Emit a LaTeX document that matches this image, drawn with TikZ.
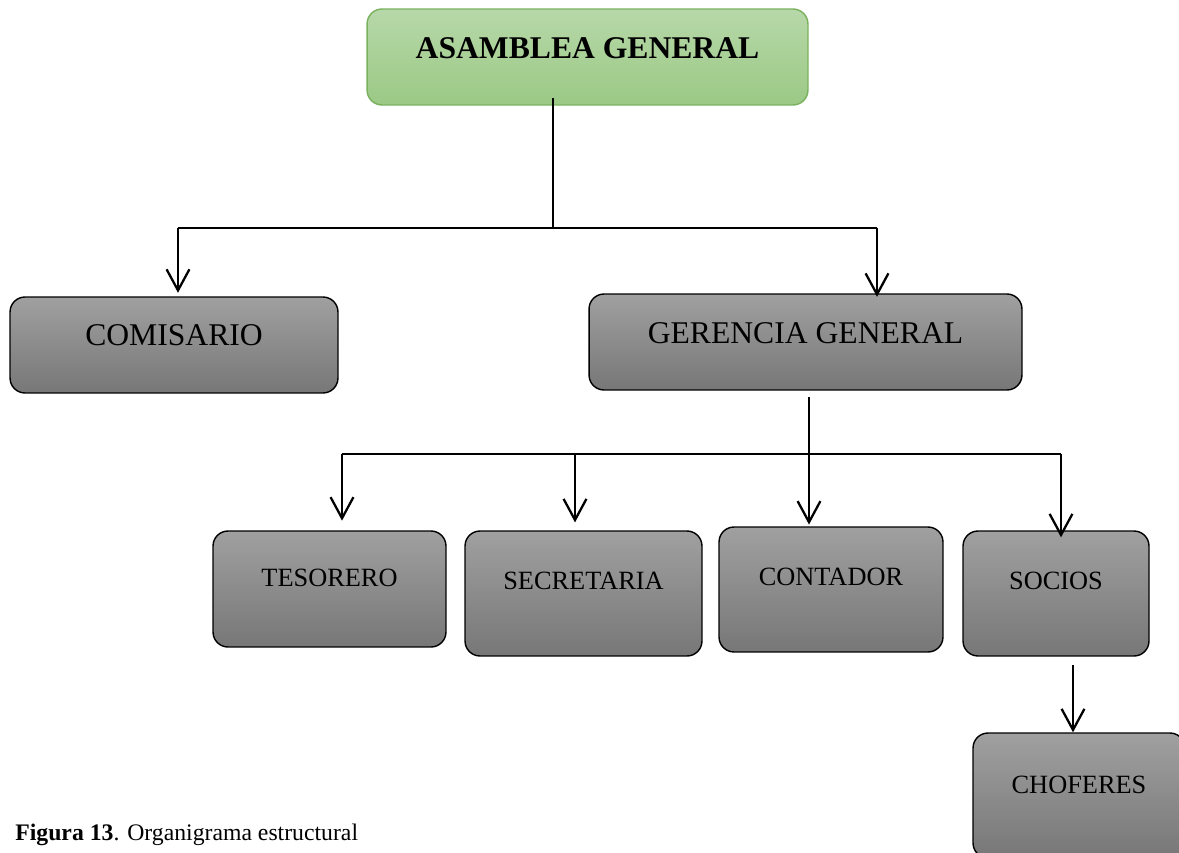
\documentclass[tikz,border=0pt]{standalone}
\usepackage{fontspec}
\setmainfont{Liberation Serif}
\usepackage{tikz}
\usetikzlibrary{positioning,arrows.meta}
\usepackage{xcolor}
\definecolor{verdeA}{HTML}{B7D8A9}
\definecolor{verdeB}{HTML}{9BC985}
\definecolor{verdeBorde}{HTML}{7AB15E}
\definecolor{grisA}{HTML}{A0A0A0}
\definecolor{grisB}{HTML}{777777}
\tikzset{
  caja/.style={draw=black, line width=0.8pt, rounded corners=0.3cm, top color=grisA, bottom color=grisB, inner sep=0pt, font=\fontsize{15}{18}\selectfont},
  raiz/.style={caja, draw=verdeBorde, top color=verdeA, bottom color=verdeB},
  linea/.style={line width=0.9pt},
  flecha/.style={line width=1.3pt, -{Straight Barb[length=12pt,width=13pt]}}
}

\begin{document}
\begin{tikzpicture}[x=0.02cm, y=-0.02cm]
\useasboundingbox (0,0) rectangle (1179,852);
\fill[white] (0,0) rectangle (1179,852);

% cajas
\node[raiz, minimum width=8.82cm, minimum height=1.92cm, text depth=10pt, font=\fontsize{18}{22}\selectfont\bfseries] (asamblea) at (587.5,57) {ASAMBLEA GENERAL};
\node[caja, minimum width=6.56cm, minimum height=1.92cm, text depth=11pt, font=\fontsize{18}{22}\selectfont] (comisario) at (174,345) {COMISARIO};
\node[caja, minimum width=8.66cm, minimum height=1.92cm, text depth=10pt, font=\fontsize{18}{22}\selectfont] (gerencia) at (805.5,342) {GERENCIA GENERAL};
\node[caja, minimum width=4.66cm, minimum height=2.32cm, text depth=12.5pt] (tesorero) at (329.5,589) {TESORERO};
\node[caja, minimum width=4.74cm, minimum height=2.5cm, text depth=14pt] (secretaria) at (583.5,593.5) {SECRETARIA};
\node[caja, minimum width=4.48cm, minimum height=2.5cm, text depth=14pt] (contador) at (831,589.5) {CONTADOR};
\node[caja, minimum width=3.72cm, minimum height=2.5cm, text depth=14pt] (socios) at (1056,593.5) {SOCIOS};
\node[caja, minimum width=4.24cm, minimum height=2.5cm, text depth=12pt] (choferes) at (1079,795.5) {CHOFERES};

% primer nivel
\coordinate (t1) at (553,98);
\coordinate (b1) at (553,228);
\coordinate (b1i) at (178,228);
\coordinate (b1d) at (877,228);
\draw[linea] (t1) -- (b1);
\draw[linea] (b1i) -- (b1d);
\draw[flecha, shorten >=2pt] (b1i) -- (b1i |- comisario.north);
\draw[flecha, shorten >=-2pt] (b1d) -- (b1d |- gerencia.north);

% segundo nivel
\coordinate (t2) at (809,397);
\coordinate (b2i) at (342,454);
\coordinate (b2s) at (575,454);
\coordinate (b2d) at (1061,454);
\draw[linea] (b2i) -- (b2d);
\draw[flecha, shorten >=1pt] (t2) -- (t2 |- contador.north);
\draw[flecha, shorten >=5.5pt] (b2i) -- (b2i |- tesorero.north);
\draw[flecha, shorten >=4.5pt] (b2s) -- (b2s |- secretaria.north);
\draw[flecha, shorten >=-4pt] (b2d) -- (b2d |- socios.north);

% socios a choferes
\coordinate (s1) at (1073,665);
\draw[flecha] (s1) -- (s1 |- choferes.north);

% pie
\node[anchor=base west, inner sep=0pt, font=\fontsize{13.5}{16}\selectfont] (pie) at (15,840) {\textbf{Figura 13}. Organigrama estructural};
\end{tikzpicture}
\end{document}
